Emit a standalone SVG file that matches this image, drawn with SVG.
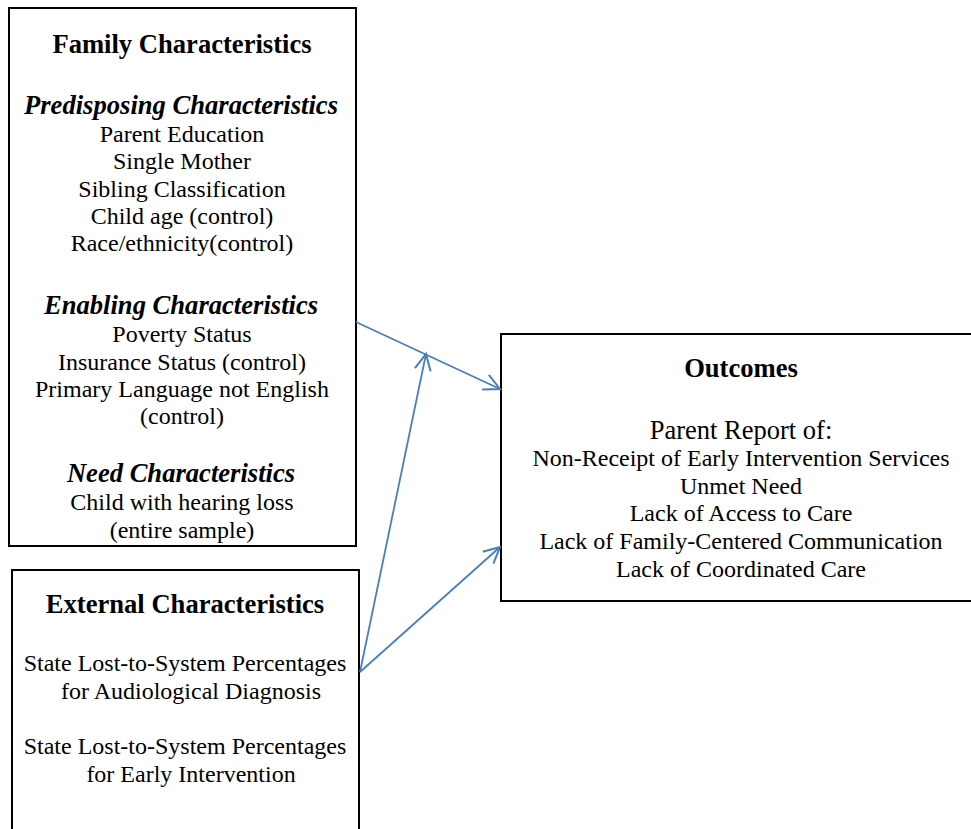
<svg xmlns="http://www.w3.org/2000/svg" width="971" height="829" viewBox="0 0 971 829">
<style>
.box{fill:#fff;stroke:#000;stroke-width:2}
text{fill:#000;text-anchor:middle}
.t{font-size:26.6px;font-weight:bold}
.s{font-size:26.6px;font-weight:bold;font-style:italic}
.i{font-size:24px}
.p{font-size:26.5px}
.c{fill:none;stroke:#4a7ebb;stroke-width:1.8}
</style>
<defs>
<marker id="ah" viewBox="0 0 20 20" refX="18" refY="10" markerWidth="20" markerHeight="20" markerUnits="userSpaceOnUse" orient="auto">
<path d="M2,2 L18,10 L2,18" fill="none" stroke="#4a7ebb" stroke-width="2"/>
</marker>
</defs>
<g font-family="Liberation Serif, Tinos, Times New Roman, DejaVu Serif, serif">
<g id="family">
<rect class="box" x="9" y="8" width="347" height="538"/>
<text class="t" x="182" y="53">Family Characteristics</text>
<text class="s" x="181" y="114">Predisposing Characteristics</text>
<text class="i" x="182" y="142">Parent Education</text>
<text class="i" x="182" y="169">Single Mother</text>
<text class="i" x="182" y="197">Sibling Classification</text>
<text class="i" x="182" y="224">Child age (control)</text>
<text class="i" x="182" y="251">Race/ethnicity(control)</text>
<text class="s" x="181" y="314">Enabling Characteristics</text>
<text class="i" x="182" y="342">Poverty Status</text>
<text class="i" x="182" y="370">Insurance Status (control)</text>
<text class="i" x="182" y="397">Primary Language not English</text>
<text class="i" x="182" y="424">(control)</text>
<text class="s" x="181" y="482">Need Characteristics</text>
<text class="i" x="182" y="510">Child with hearing loss</text>
<text class="i" x="182" y="538">(entire sample)</text>
</g>
<g id="external">
<rect class="box" x="12" y="570" width="347" height="270"/>
<text class="t" x="185" y="613">External Characteristics</text>
<text class="i" x="185" y="671">State Lost-to-System Percentages</text>
<text class="i" x="191" y="699">for Audiological Diagnosis</text>
<text class="i" x="185" y="754">State Lost-to-System Percentages</text>
<text class="i" x="191" y="782">for Early Intervention</text>
</g>
<g id="outcomes">
<rect class="box" x="501" y="334" width="480" height="267"/>
<text class="t" x="741" y="377">Outcomes</text>
<text class="p" x="741" y="439">Parent Report of:</text>
<text class="i" x="741" y="466">Non-Receipt of Early Intervention Services</text>
<text class="i" x="741" y="494">Unmet Need</text>
<text class="i" x="741" y="521">Lack of Access to Care</text>
<text class="i" x="741" y="549">Lack of Family-Centered Communication</text>
<text class="i" x="741" y="577">Lack of Coordinated Care</text>
</g>
</g>
<g id="connectors">
<line class="c" x1="356" y1="322" x2="500" y2="389" marker-end="url(#ah)"/>
<line class="c" x1="360" y1="672" x2="426" y2="354" marker-end="url(#ah)"/>
<line class="c" x1="360" y1="672" x2="500" y2="547" marker-end="url(#ah)"/>
</g>
</svg>
